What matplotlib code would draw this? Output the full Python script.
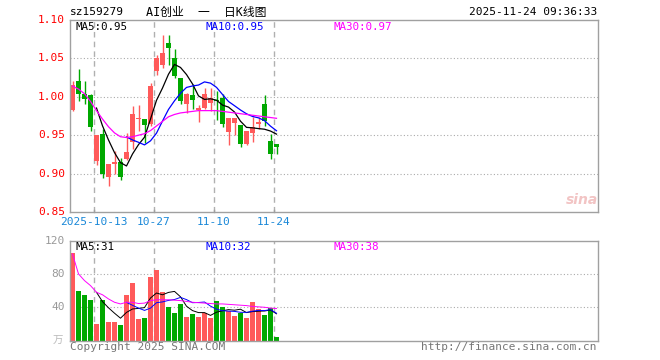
import matplotlib
matplotlib.use("Agg")
import matplotlib.pyplot as plt
import numpy as np
import pandas as pd

# Daily K-line data, 35 trading days
open_ = [0.983, 1.021, 1.004, 1.002, 0.916, 0.952, 0.896, 0.912, 0.915, 0.919,
         0.941, 0.971, 0.971, 0.965, 1.033, 1.041, 1.070, 1.051, 1.024, 0.990,
         1.002, 0.983, 0.985, 0.992, 0.9955, 0.998, 0.954, 0.966, 0.963, 0.938,
         0.953, 0.9645, 0.990, 0.943, 0.938]
close = [1.015, 1.004, 0.997, 0.961, 0.950, 0.899, 0.912, 0.9146, 0.896, 0.928,
         0.977, 0.973, 0.963, 1.014, 1.050, 1.057, 1.063, 1.027, 0.994, 1.004,
         0.996, 0.985, 1.004, 0.998, 0.995, 0.964, 0.972, 0.972, 0.938, 0.955,
         0.961, 0.967, 0.968, 0.926, 0.935]
high = [1.021, 1.036, 1.020, 1.003, 0.950, 0.958, 0.912, 0.930, 0.920, 0.953,
        0.988, 0.989, 0.971, 1.018, 1.055, 1.081, 1.080, 1.062, 1.024, 1.005,
        1.017, 0.989, 1.012, 1.012, 1.0075, 1.003, 0.972, 0.973, 0.963, 0.955,
        0.974, 0.974, 1.002, 0.951, 0.938]
low = [0.981, 0.994, 0.991, 0.955, 0.911, 0.894, 0.884, 0.900, 0.892, 0.918,
       0.932, 0.955, 0.940, 0.962, 1.029, 1.037, 1.041, 1.025, 0.991, 0.979,
       0.984, 0.967, 0.984, 0.981, 0.970, 0.961, 0.937, 0.950, 0.935, 0.937,
       0.941, 0.958, 0.962, 0.919, 0.925]
ma30_price = [1.014, 1.010, 1.004, 0.994, 0.982, 0.971, 0.961, 0.953, 0.948, 0.947,
              0.948, 0.950, 0.952, 0.956, 0.962, 0.968, 0.974, 0.977, 0.979, 0.980,
              0.981, 0.982, 0.982, 0.982, 0.982, 0.981, 0.980, 0.979, 0.978, 0.977,
              0.976, 0.975, 0.974, 0.973, 0.972]

# volume in 万
volume = [104.8, 60, 55.2, 49.2, 20.4, 49.2, 22.8, 22.8, 19.2, 55.2,
          69.6, 26.4, 27.6, 76.8, 85.2, 58.8, 40.8, 33.6, 44.4, 28.8,
          32.4, 28.8, 33.6, 27.6, 48, 40.8, 36, 30, 33.6, 27.6,
          46.8, 38.4, 31.2, 39.6, 4.8]
ma30_vol = [104, 80, 72, 66, 58, 55, 50, 46, 44, 46,
            46, 44.5, 45, 48, 49, 49, 49, 48.5, 48, 47,
            46, 45.5, 45, 44.5, 44, 44, 43.5, 43, 42.5, 42,
            41, 40.5, 40, 39, 38.5]

date_ticks = [4, 14, 24, 34]
date_labels = ["2025-10-13", "10-27", "11-10", "11-24"]
price_ticks = [0.85, 0.90, 0.95, 1.00, 1.05, 1.10]
vol_ticks = [40, 80, 120]

RED = "#ff5a5a"
GREEN = "#00a800"
FRAME = "#a0a0a0"
MONO = ["DejaVu Sans Mono", "Noto Sans CJK SC"]

plt.rcParams["font.family"] = MONO

df = pd.DataFrame({"open": open_, "close": close, "high": high, "low": low, "vol": volume})
df["ma5"] = df["close"].rolling(5).mean()
df["ma10"] = df["close"].rolling(10).mean()
df["vma5"] = df["vol"].rolling(5).mean()
df["vma10"] = df["vol"].rolling(10).mean()

W, H = 660, 360
fig = plt.figure(figsize=(W / 100, H / 100), dpi=100)


def px(x, y):
    return x / W, 1 - y / H


ax = fig.add_axes([70 / W, 148 / H, 528 / W, 192 / H])
axv = fig.add_axes([70 / W, 19.4 / H, 528 / W, 100 / H])

idx = np.arange(len(df))
bw = 5 / 6
xc = idx + bw / 2
up = df["close"] >= df["open"]
colors = np.where(up, RED, GREEN)

# candles
ax.vlines(xc, df["low"], df["high"], colors=colors, lw=1)
body_bottom = np.minimum(df["open"], df["close"])
body_h = np.maximum((df["close"] - df["open"]).abs(), 0.0014)
ax.bar(idx, body_h, bottom=body_bottom, width=bw, align="edge", color=colors, lw=0)

ax.plot(xc, df["ma5"], color="black", lw=0.9)
ax.plot(xc, df["ma10"], color="#0000ff", lw=0.9)
ax.plot(xc, ma30_price, color="#ff00ff", lw=0.9)

# volume
axv.bar(idx, df["vol"], width=bw, align="edge", color=colors, lw=0)
axv.plot(xc, df["vma5"], color="black", lw=0.7)
axv.plot(xc, df["vma10"], color="#0000ff", lw=0.7)
axv.plot(xc, ma30_vol, color="#ff00ff", lw=0.7)

ax.set_ylim(0.85, 1.10)
axv.set_ylim(0, 120)
for a in (ax, axv):
    a.set_xlim(0, 88)
    a.set_xticks([])
    a.set_yticks([])
    for s in a.spines.values():
        s.set_color(FRAME)
        s.set_linewidth(1.0)
    for t in date_ticks:
        a.axvline(t, color="#b0b0b0", lw=1, ls=(0, (4, 3)), zorder=0)

for p in price_ticks[1:-1]:
    ax.axhline(p, color="#aaaaaa", lw=0.8, ls=(0, (1, 2)), zorder=0)
for v in vol_ticks[:-1]:
    axv.axhline(v, color="#aaaaaa", lw=0.8, ls=(0, (1, 2)), zorder=0)

# small tick marks on price bottom axis
for t in date_ticks:
    ax.plot([t, t], [0.85, 0.853], color=FRAME, lw=1, clip_on=False)

# y labels
for p in price_ticks:
    ax.text(-0.8, p, f"{p:.2f}", color="red", fontsize=8, ha="right", va="center",
            transform=ax.transData)
for v in vol_ticks:
    axv.text(-0.8, v, str(v), color="#999999", fontsize=8, ha="right", va="center")
axv.text(-1.2, 0, "万", color="#bbbbbb", fontsize=7.5, ha="right", va="center",
         family=["Noto Sans CJK SC"])

# x labels
for t, lab in zip(date_ticks, date_labels):
    ax.text(t, 0.85 - 0.0125, lab, color="#1a88d8", fontsize=8, ha="center", va="center")

# header
fig.text(*px(70, 12), "sz159279", fontsize=8, ha="left", va="center")
fig.text(*px(206, 12), "AI创业  一  日K线图", fontsize=8.5, ha="center", va="center")
fig.text(*px(597, 12), "2025-11-24 09:36:33", fontsize=8, ha="right", va="center")

# MA labels
fig.text(*px(75, 27), "MA5:0.95", fontsize=7.8, color="black", va="center")
fig.text(*px(205, 27), "MA10:0.95", fontsize=7.8, color="#0000ff", va="center")
fig.text(*px(334, 27), "MA30:0.97", fontsize=7.8, color="#ff00ff", va="center")
fig.text(*px(75, 247), "MA5:31", fontsize=7.8, color="black", va="center")
fig.text(*px(205, 247), "MA10:32", fontsize=7.8, color="#0000ff", va="center")
fig.text(*px(334, 247), "MA30:38", fontsize=7.8, color="#ff00ff", va="center")

# footer
fig.text(*px(70, 347), "Copyright 2025 SINA.COM", fontsize=8, color="#777777", va="center")
fig.text(*px(597, 347), "http://finance.sina.com.cn", fontsize=8, color="#777777",
         ha="right", va="center")

# sina watermark
fig.text(*px(582, 200), "sina", fontsize=10, color="#f2c4c4", ha="center", va="center",
         style="italic", weight="bold", family=["DejaVu Sans"])

fig.savefig("out.png", dpi=100)
